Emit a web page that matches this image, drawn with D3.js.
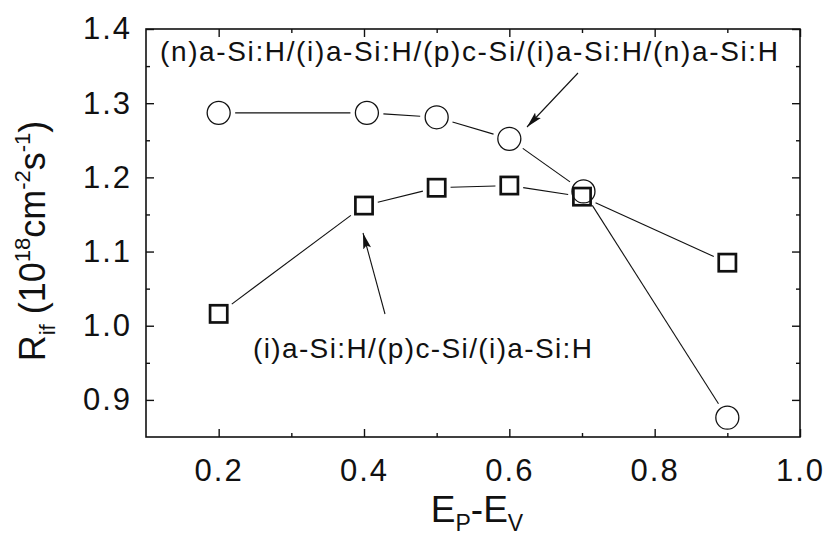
<!DOCTYPE html>
<html>
<head>
<meta charset="utf-8">
<script src="https://cdn.jsdelivr.net/npm/d3@7"></script>
<style>
  html, body { margin: 0; padding: 0; background: #fff; }
  svg { display: block; }
  text { font-family: "Liberation Sans", Arial, sans-serif; fill: #111; }
</style>
</head>
<body>
<svg id="chart" width="831" height="541"></svg>
<script>
// ---- data ----
const circleX = [0.2, 0.404, 0.5, 0.6, 0.702, 0.9];
const circleVals = [1.287, 1.287, 1.281, 1.252, 1.181, 0.876];
const squareX = [0.2, 0.4, 0.5, 0.6, 0.7, 0.9];
const squareVals = [1.016, 1.162, 1.186, 1.189, 1.174, 1.085];
const xMajor = [0.2, 0.4, 0.6, 0.8, 1.0];
const xMinor = [0.3, 0.5, 0.7, 0.9];
const yMajor = [0.9, 1.0, 1.1, 1.2, 1.3, 1.4];
const yMinor = [0.95, 1.05, 1.15, 1.25, 1.35];
const labelCircles = "(n)a-Si:H/(i)a-Si:H/(p)c-Si/(i)a-Si:H/(n)a-Si:H";
const labelSquares = "(i)a-Si:H/(p)c-Si/(i)a-Si:H";

const L = 146, R = 800, T = 29, B = 437;
const svg = d3.select("#chart");
const x = d3.scaleLinear().domain([0.1, 1.0]).range([L, R]);
const y = d3.scaleLinear().domain([0.85, 1.4]).range([B, T]);

const fmt = d3.format(".1f");
const majorLen = 8, minorLen = 4;

// bottom axis
const gB = svg.append("g").attr("transform", `translate(0,${B})`)
  .call(d3.axisBottom(x).tickValues(xMajor).tickSizeInner(-majorLen).tickSizeOuter(0).tickPadding(22).tickFormat(fmt));
svg.append("g").attr("transform", `translate(0,${B})`)
  .call(d3.axisBottom(x).tickValues(xMinor).tickSizeInner(-minorLen).tickSizeOuter(0).tickFormat(""));
// top axis
svg.append("g").attr("transform", `translate(0,${T})`)
  .call(d3.axisTop(x).tickValues(xMajor).tickSizeInner(-majorLen).tickSizeOuter(0).tickFormat(""));
svg.append("g").attr("transform", `translate(0,${T})`)
  .call(d3.axisTop(x).tickValues(xMinor).tickSizeInner(-minorLen).tickSizeOuter(0).tickFormat(""));
// left axis
const gL = svg.append("g").attr("transform", `translate(${L},0)`)
  .call(d3.axisLeft(y).tickValues(yMajor).tickSizeInner(-majorLen).tickSizeOuter(0).tickPadding(14).tickFormat(fmt));
svg.append("g").attr("transform", `translate(${L},0)`)
  .call(d3.axisLeft(y).tickValues(yMinor).tickSizeInner(-minorLen).tickSizeOuter(0).tickFormat(""));
// right axis
svg.append("g").attr("transform", `translate(${R},0)`)
  .call(d3.axisRight(y).tickValues(yMajor).tickSizeInner(-majorLen).tickSizeOuter(0).tickFormat(""));
svg.append("g").attr("transform", `translate(${R},0)`)
  .call(d3.axisRight(y).tickValues(yMinor).tickSizeInner(-minorLen).tickSizeOuter(0).tickFormat(""));

svg.selectAll(".domain").remove();
svg.selectAll(".tick line").attr("stroke", "#111").attr("stroke-width", 1.4);
svg.selectAll(".tick text")
  .attr("font-size", 31).attr("letter-spacing", 2).attr("fill", "#111")
  .attr("font-family", '"Liberation Sans", Arial, sans-serif');
gB.selectAll(".tick text").attr("dy", "0.71em");

// frame
svg.append("rect").attr("x", L).attr("y", T).attr("width", R - L).attr("height", B - T)
  .attr("fill", "none").attr("stroke", "#111").attr("stroke-width", 1.6);

// series lines, shortened so they stop short of the markers
const cR = 11.5, sH = 8.6;
function shorten(pts, rad) {
  const segs = [];
  for (let i = 0; i < pts.length - 1; i++) {
    const [x1, y1] = pts[i], [x2, y2] = pts[i + 1];
    const dx = x2 - x1, dy = y2 - y1, len = Math.hypot(dx, dy);
    const ux = dx / len, uy = dy / len;
    const a = rad(ux, uy), b = rad(ux, uy);
    if (len > a + b) segs.push([x1 + ux * a, y1 + uy * a, x2 - ux * b, y2 - uy * b]);
  }
  return segs;
}
const circlePts = circleX.map((v, i) => [x(v), y(circleVals[i])]);
const squarePts = squareX.map((v, i) => [x(v), y(squareVals[i])]);
const circRad = () => cR + 5;
const sqRad = (ux, uy) => (sH + 1.3) / Math.max(Math.abs(ux), Math.abs(uy)) + 4;

[[circlePts, circRad], [squarePts, sqRad]].forEach(([pts, rad]) => {
  svg.append("g").selectAll("line").data(shorten(pts, rad)).join("line")
    .attr("x1", d => d[0]).attr("y1", d => d[1]).attr("x2", d => d[2]).attr("y2", d => d[3])
    .attr("stroke", "#111").attr("stroke-width", 1.1);
});

// markers
svg.append("g").selectAll("circle").data(circlePts).join("circle")
  .attr("cx", d => d[0]).attr("cy", d => d[1]).attr("r", cR)
  .attr("fill", "none").attr("stroke", "#111").attr("stroke-width", 1.3);
svg.append("g").selectAll("rect").data(squarePts).join("rect")
  .attr("x", d => d[0] - sH).attr("y", d => d[1] - sH).attr("width", 2 * sH).attr("height", 2 * sH)
  .attr("fill", "none").attr("stroke", "#111").attr("stroke-width", 2.7);

// annotations
svg.append("text").attr("x", 160).attr("y", 61).attr("font-size", 28)
  .attr("textLength", 618).attr("lengthAdjust", "spacing").text(labelCircles);
svg.append("text").attr("x", 253).attr("y", 358).attr("font-size", 28)
  .attr("textLength", 339).attr("lengthAdjust", "spacing").text(labelSquares);

// arrows
const defs = svg.append("defs");
defs.append("marker").attr("id", "ah").attr("viewBox", "0 0 16 8").attr("refX", 16).attr("refY", 4)
  .attr("markerWidth", 16).attr("markerHeight", 8).attr("markerUnits", "userSpaceOnUse").attr("orient", "auto")
  .append("path").attr("d", "M0,0 L16,4 L0,8 L3,4 Z").attr("fill", "#111");
const arrows = [[578, 73, 527, 127], [385, 314, 363, 233]];
svg.append("g").selectAll("line").data(arrows).join("line")
  .attr("x1", d => d[0]).attr("y1", d => d[1]).attr("x2", d => d[2]).attr("y2", d => d[3])
  .attr("stroke", "#111").attr("stroke-width", 1.1).attr("marker-end", "url(#ah)");

// axis titles
const xt = svg.append("text").attr("x", 477).attr("y", 522).attr("text-anchor", "middle").attr("font-size", 37);
xt.append("tspan").text("E");
xt.append("tspan").attr("font-size", 23).attr("dy", 9).text("P");
xt.append("tspan").attr("dy", -9).text("-E");
xt.append("tspan").attr("font-size", 23).attr("dy", 9).text("V");

const yt = svg.append("text").attr("transform", "translate(45,241) rotate(-90)")
  .attr("text-anchor", "middle").attr("font-size", 36);
yt.append("tspan").text("R");
yt.append("tspan").attr("font-size", 22).attr("dy", 10).text("if");
yt.append("tspan").attr("dy", -10).text(" (10");
yt.append("tspan").attr("font-size", 22).attr("dy", -15).text("18");
yt.append("tspan").attr("dy", 15).text("cm");
yt.append("tspan").attr("font-size", 22).attr("dy", -15).text("-2");
yt.append("tspan").attr("dy", 15).text("s");
yt.append("tspan").attr("font-size", 22).attr("dy", -15).text("-1");
yt.append("tspan").attr("dy", 15).text(")");
</script>
</body>
</html>
